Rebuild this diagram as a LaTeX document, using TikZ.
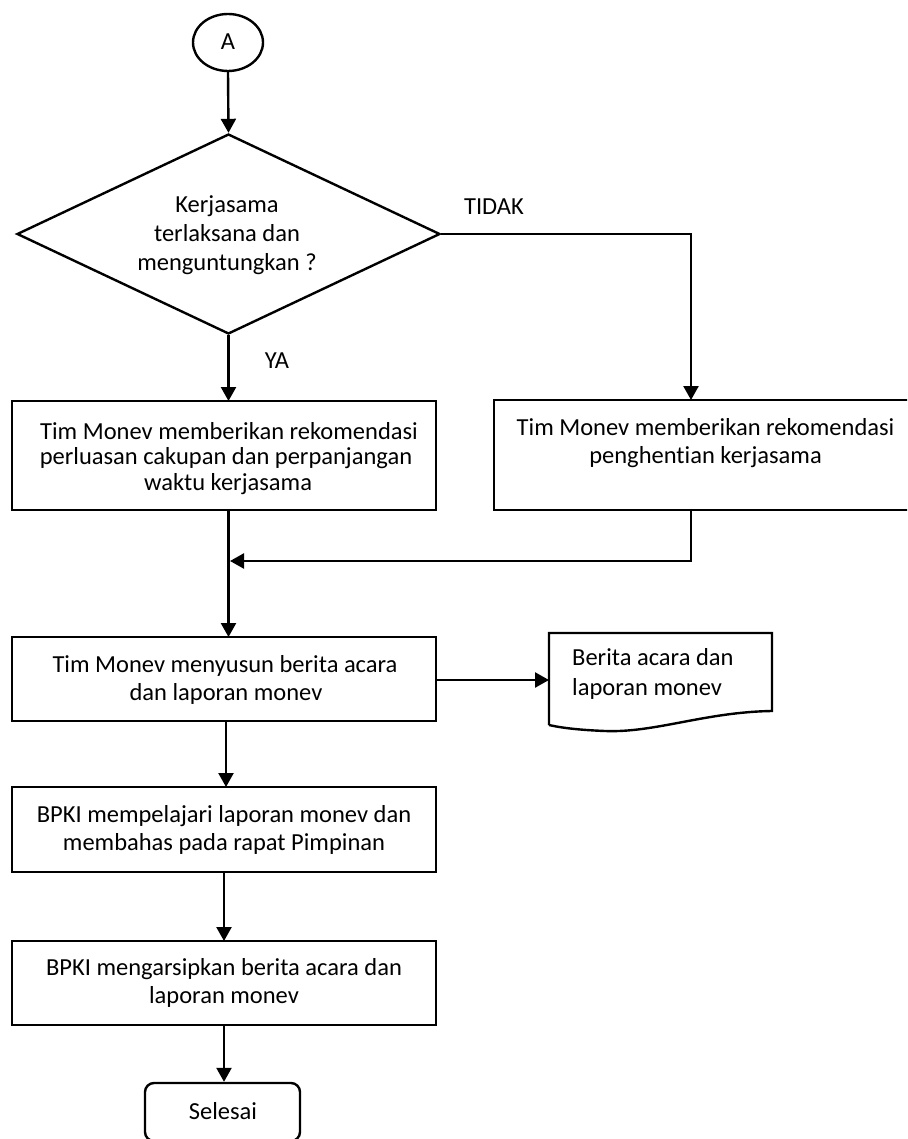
\documentclass[tikz,border=0pt]{standalone}
\usepackage{fontspec}
\setmainfont[RawFeature={-liga;-clig;-calt;-dlig}]{Carlito}
\usetikzlibrary{arrows.meta,shapes.geometric}
\begin{document}
\begin{tikzpicture}[x=1pt,y=-1pt,
  lw/.style={line width=2.4pt},
  boxnode/.style={draw,lw,rectangle,inner sep=0pt,outer sep=0pt},
  txt/.style={font=\fontsize{24.5}{28}\selectfont,inner sep=0pt,anchor=base},
  arr/.style={lw,-{Triangle[width=15pt,length=14pt]}},
  conn/.style={lw}]
\useasboundingbox (0,0) rectangle (907,1139);
\clip (0,0) rectangle (907,1139);
\fill[white] (0,0) rectangle (907,1139);

% shapes
\node[draw,lw,ellipse,minimum width=70pt,minimum height=57pt,inner sep=0pt] (A) at (228,42.5) {};
\node[draw,lw,diamond,minimum width=423pt,minimum height=200pt,inner sep=0pt] (d) at (228.5,234) {};
\node[boxnode,minimum width=424pt,minimum height=109pt] (b1) at (224,455.5) {};
\node[boxnode,minimum width=423pt,minimum height=110pt] (b2) at (705.5,455) {};
\node[boxnode,minimum width=424pt,minimum height=84pt] (b3) at (224,679) {};
\node[inner sep=0pt,outer sep=0pt,minimum width=223pt,minimum height=94pt] (doc) at (660.5,680) {};
\draw[lw,line join=miter] (549,725) -- (549,633) -- (772,633) -- (772,711)
  .. controls (705,712) and (655,733) .. (605,731)
  .. controls (580,730) and (562,728) .. (549,725);
\node[boxnode,minimum width=424pt,minimum height=85pt] (b4) at (224,829.5) {};
\node[boxnode,minimum width=424pt,minimum height=84pt] (b5) at (224,983) {};
\node[draw,lw,rectangle,rounded corners=9pt,minimum width=155pt,minimum height=58pt,inner sep=0pt] (sel) at (222.5,1112) {};

% texts
\node[txt] (tA) at (228,50) {A};
\node[txt] (td1) at (227,213) {Kerjasama};
\node[txt] (td2) at (227,242) {terlaksana dan};
\node[txt] (td3) at (227,271) {menguntungkan ?};
\node[txt] (tya) at (277,368) {YA};
\node[txt] (ttidak) at (494,215) {TIDAK};
\node[txt] (t11) at (229,439) {Tim Monev memberikan rekomendasi};
\node[txt] (t12) at (226,464.5) {perluasan cakupan dan perpanjangan};
\node[txt] (t13) at (228,490) {waktu kerjasama};
\node[txt] (t21) at (705.5,435) {Tim Monev memberikan rekomendasi};
\node[txt] (t22) at (705.5,463) {penghentian kerjasama};
\node[txt] (t31) at (225,672) {Tim Monev menyusun berita acara};
\node[txt] (t32) at (226,700) {dan laporan monev};
\node[txt,anchor=base west] (tdoc1) at (572,665) {Berita acara dan};
\node[txt,anchor=base west] (tdoc2) at (572,695) {laporan monev};
\node[txt] (t41) at (224,822) {BPKI mempelajari laporan monev dan};
\node[txt] (t42) at (224,850) {membahas pada rapat Pimpinan};
\node[txt] (t51) at (224,975) {BPKI mengarsipkan berita acara dan};
\node[txt] (t52) at (224,1003) {laporan monev};
\node[txt] (tsel) at (223,1119) {Selesai};

% connectors
\coordinate (jn) at (230,561);
\draw[arr] (A.south) -- (d.north);
\draw[arr] (d.south) -- (b1.north -| d.south);
\draw[arr] (d.east) -| ([xshift=-14.5pt]b2.north);
\draw[arr] ([xshift=-14.5pt]b2.south) |- (jn);
\draw[arr] (b1.south -| d.south) -- (b3.north -| d.south);
\draw[arr] (b3.east |- 0,680) -- (doc.west |- 0,680);
\draw[arr] ([xshift=2pt]b3.south) -- ([xshift=2pt]b4.north);
\draw[arr] (b4.south) -- (b5.north);
\draw[arr] (b5.south) -- (b5.south |- sel.north);
\end{tikzpicture}
\end{document}
